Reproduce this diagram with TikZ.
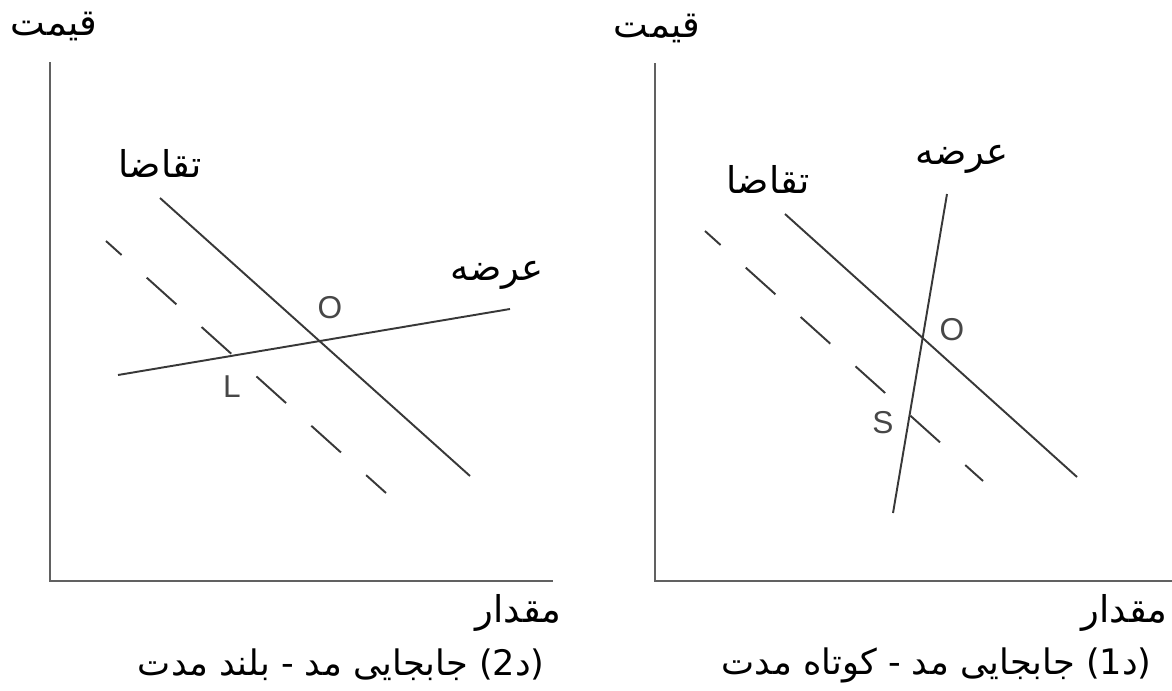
\documentclass[tikz,border=0pt]{standalone}
\usepackage{fontspec}
\setmainfont{DejaVu Sans}
\newfontfamily\plain{DejaVu Sans}
\newfontfamily\farsi[Script=Arabic]{DejaVu Sans}
\newfontfamily\latin{Liberation Sans}
\TeXXeTstate=1
\tikzset{
  curve/.style={line width=1.1pt, draw=black!78},
  shifted/.style={curve, dash pattern=on 22.7pt off 19.3pt, dash phase=10.8pt},
  axis/.style={line width=1.4pt, draw=black!62},
  pt/.style={text=black!72, inner sep=0pt, font=\latin\fontsize{18}{18}\selectfont},
  fa/.style={inner sep=0pt, font=\farsi\fontsize{21}{24}\selectfont},
  caption/.style={fa, anchor=east, font=\farsi\fontsize{20}{24}\selectfont}
}
\begin{document}
\begin{tikzpicture}[x=0.02cm,y=-0.02cm]
  \useasboundingbox (0,0) rectangle (1172,690);
  % left: long run
  \draw[axis] (50,62) -- (50,581) -- (553,581);
  \draw[curve] (160,198) -- (470,476);
  \draw[shifted] (106,241) -- (386,493);
  \draw[curve] (118,375) -- (510,309);
  \node[pt] (oL) at (330,308) {O};
  \node[pt] (lL) at (232,387) {L};
  \node[fa] (priceL) at (54,26) {\beginR قیمت\endR};
  \node[fa] (demL) at (160,163) {\beginR تقاضا\endR};
  \node[fa] (supL) at (497,275) {\beginR عرضه\endR};
  \node[fa,anchor=east] (qtyL) at (562,613) {\beginR مقدار\endR};
  \node[caption] (capL) at (545,665) {\beginR جابجایی مد - بلند مدت\endR\ {\plain(2}د{\plain)}};
  % right: short run
  \draw[axis] (655,63) -- (655,581) -- (1172,581);
  \draw[curve] (785,214) -- (1077,477);
  \draw[shifted] (705,231) -- (983,481);
  \draw[curve] (947,194) -- (893,513);
  \node[pt] (oR) at (952,330) {O};
  \node[pt] (sR) at (883,423) {S};
  \node[fa] (priceR) at (657,28) {\beginR قیمت\endR};
  \node[fa] (demR) at (768,179) {\beginR تقاضا\endR};
  \node[fa] (supR) at (962,159) {\beginR عرضه\endR};
  \node[fa,anchor=east] (qtyR) at (1168,613) {\beginR مقدار\endR};
  \node[caption] (capR) at (1152,665) {\beginR جابجایی مد - کوتاه مدت\endR\ {\plain(1}د{\plain)}};
\end{tikzpicture}
\end{document}
